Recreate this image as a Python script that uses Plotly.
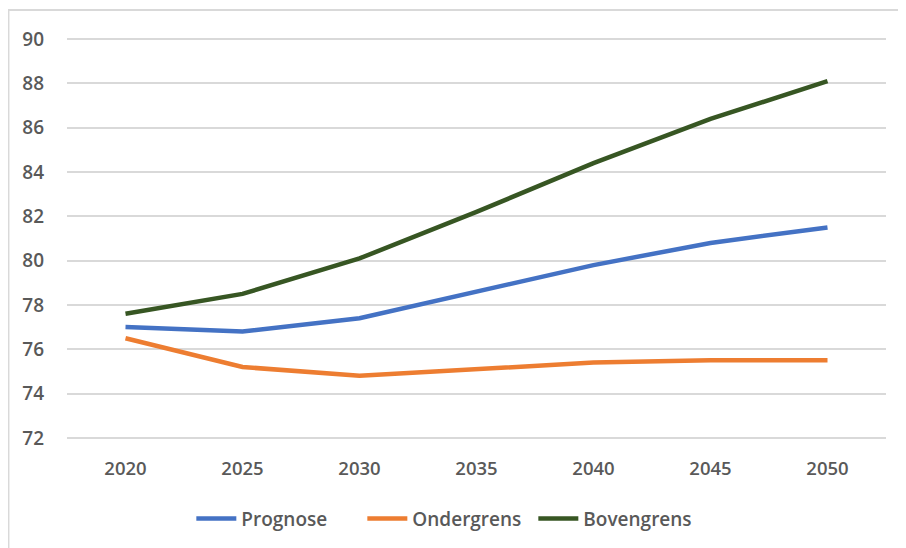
import plotly.graph_objects as go

years = ["2020", "2025", "2030", "2035", "2040", "2045", "2050"]
prognose = [77.0, 76.8, 77.4, 78.6, 79.8, 80.8, 81.5]
ondergrens = [76.5, 75.2, 74.8, 75.1, 75.4, 75.5, 75.5]
bovengrens = [77.6, 78.5, 80.1, 82.2, 84.4, 86.4, 88.1]
y_ticks = [72, 74, 76, 78, 80, 82, 84, 86, 88, 90]

font_grey = "#595959"

fig = go.Figure()
for name, vals, col in [
    ("Prognose", prognose, "#4472C4"),
    ("Ondergrens", ondergrens, "#ED7D31"),
    ("Bovengrens", bovengrens, "#375623"),
]:
    fig.add_trace(go.Scatter(
        x=years, y=vals, mode="lines", name=name,
        line=dict(color=col, width=4.5),
    ))

# chart border (Excel chart area frame, cut at right/bottom)
fig.add_shape(type="rect", xref="paper", yref="paper",
              x0=-0.0715, x1=1.1, y0=-0.4, y1=1.0698,
              line=dict(color="#d9d9d9", width=2), layer="below")

fig.update_layout(
    width=906, height=548,
    margin=dict(l=59, r=28, t=30, b=117, autoexpand=False),
    paper_bgcolor="white", plot_bgcolor="white",
    font=dict(family="Open Sans", color=font_grey, size=18, weight=600),
    showlegend=True,
    legend=dict(orientation="h", x=0.465, xanchor="center",
                yref="container", y=0.068, yanchor="middle",
                font=dict(size=19, color=font_grey), itemwidth=40,
                entrywidth=116, traceorder="normal"),
    xaxis=dict(type="category", range=[-0.5, 6.5], showgrid=False,
               showline=False, zeroline=False, ticks="",
               ticklabelstandoff=16,
               tickfont=dict(size=18.5, color=font_grey)),
    yaxis=dict(range=[71.95, 90.05], tickvals=y_ticks, showgrid=True,
               gridcolor="#d9d9d9", gridwidth=1.5, zeroline=False,
               showline=False, ticks="", ticklabelstandoff=22,
               tickfont=dict(size=19, color=font_grey)),
)

fig.write_html("out.html")
